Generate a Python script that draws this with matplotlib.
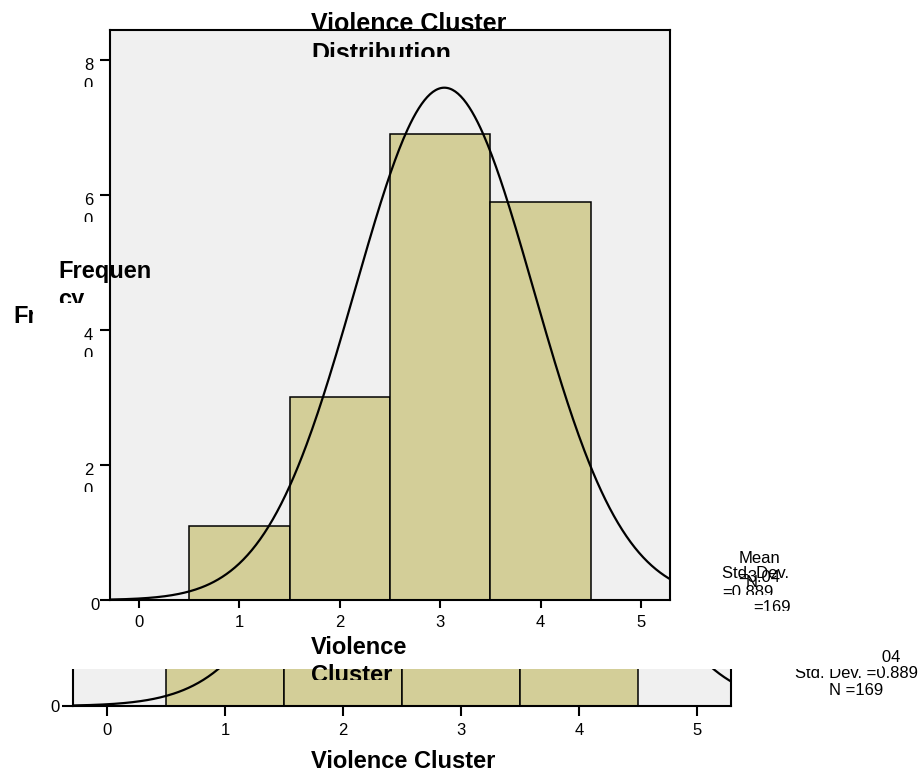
import numpy as np
import matplotlib
matplotlib.use('Agg')
import matplotlib.pyplot as plt
from matplotlib.patches import Rectangle
from matplotlib.transforms import Bbox, TransformedBbox

plt.rcParams['font.family'] = ['Liberation Sans', 'DejaVu Sans']

W, H = 922, 773

# histogram data
bin_centers = [1, 2, 3, 4]
counts = [11, 30, 69, 59]
x_ticks = [0, 1, 2, 3, 4, 5]
y_ticks = [0, 20, 40, 60, 80]
x_range = (-0.29, 5.29)
y_range = (0, 84.4)

bar_color = '#d3ce98'
panel_color = '#f0f0f0'

n = sum(counts)
mean = np.average(bin_centers, weights=counts)
sd = np.sqrt(np.sum(np.array(counts) * (np.array(bin_centers) - mean) ** 2) / (n - 1))
xs = np.linspace(x_range[0], x_range[1], 400)
curve = n * 1.0 * np.exp(-0.5 * ((xs - mean) / sd) ** 2) / (sd * np.sqrt(2 * np.pi))

fig = plt.figure(figsize=(W / 100, H / 100), dpi=100)


def box(left, top, right, bottom):
    return [left / W, 1 - bottom / H, (right - left) / W, (bottom - top) / H]


def txt(s, x, y, size=12, weight='normal', ha='left', clip=None, z=3):
    t = fig.text(x / W, 1 - y / H, s, fontsize=size, fontweight=weight,
                 ha=ha, va='baseline', zorder=z)
    if clip is not None:
        t.set_clip_box(TransformedBbox(Bbox.from_extents(0, 1 - clip / H, 1, 1),
                                       fig.transFigure))
        t.set_clip_on(True)
    return t


def histogram(ax):
    ax.set_facecolor(panel_color)
    ax.bar(bin_centers, counts, width=1.0, color=bar_color,
           edgecolor='black', linewidth=1.1)
    ax.plot(xs, curve, color='black', lw=1.6)
    ax.set_xlim(*x_range)
    ax.set_ylim(*y_range)
    ax.set_xticks(x_ticks)
    ax.set_yticks(y_ticks)
    for sp in ax.spines.values():
        sp.set_linewidth(1.5)


# chart behind (only the bottom strip shows)
ax_back = fig.add_axes(box(73, 36, 731, 706))
histogram(ax_back)
ax_back.tick_params(axis='x', length=7.2, width=1.5, labelsize=12, pad=5)
ax_back.tick_params(axis='y', length=7.9, width=1.5, labelsize=12, pad=1.5)
ax_back.set_zorder(0)
txt('Violence Cluster', 403, 768, size=17, weight='bold', ha='center')
txt('Frequency', 13, 323, size=17, weight='bold', z=0.5)
txt(f'Mean ={mean:.2f}', 856, 662, ha='center', z=0.5)
txt(f'Std. Dev. ={sd:.3f}', 856, 678, ha='center', z=0.5)
txt(f'N ={n}', 856, 695, ha='center', z=0.5)

# white area of the chart in front
fig.add_artist(Rectangle((33 / W, 1 - 669 / H), (882 - 33) / W, 669 / H,
                         transform=fig.transFigure, facecolor='white',
                         edgecolor='none', zorder=1))

# chart in front
ax_front = fig.add_axes(box(110, 30, 670, 600))
histogram(ax_front)
ax_front.tick_params(axis='x', length=5.8, width=1.5, labelsize=12, pad=5)
ax_front.tick_params(axis='y', length=7.2, width=1.5, labelleft=False)
ax_front.set_zorder(2)

for v in y_ticks:
    yp = H - ax_front.transData.transform((0, v))[1]
    s = str(v)
    if len(s) == 1:
        txt(s, 100, yp + 10, ha='right')
    else:
        txt(s[0], 93, yp + 10, ha='right')
        txt(s[1:], 93, yp + 30, ha='right', clip=yp + 27.5)

txt('Violence Cluster', 311, 31, size=18, weight='bold')
txt('Distribution', 311, 61, size=18, weight='bold', clip=57)
txt('Frequen', 58, 278, size=17, weight='bold')
txt('cy', 58, 306, size=17, weight='bold', clip=303)
txt('Violence', 311, 654, size=17, weight='bold')
txt('Cluster', 311, 682, size=17, weight='bold', clip=680)

# squeezed legend of the front chart
txt('Mean', 759, 563, ha='center')
txt(f'={mean:.2f}', 759, 582, ha='center')
txt('Std. Dev.', 722, 578)
txt('N', 752, 587, ha='center')
txt(f'={sd:.3f}', 722, 597, clip=595)
txt(f'={n}', 791, 612, ha='right', clip=611)

fig.savefig('out.png', dpi=100)
